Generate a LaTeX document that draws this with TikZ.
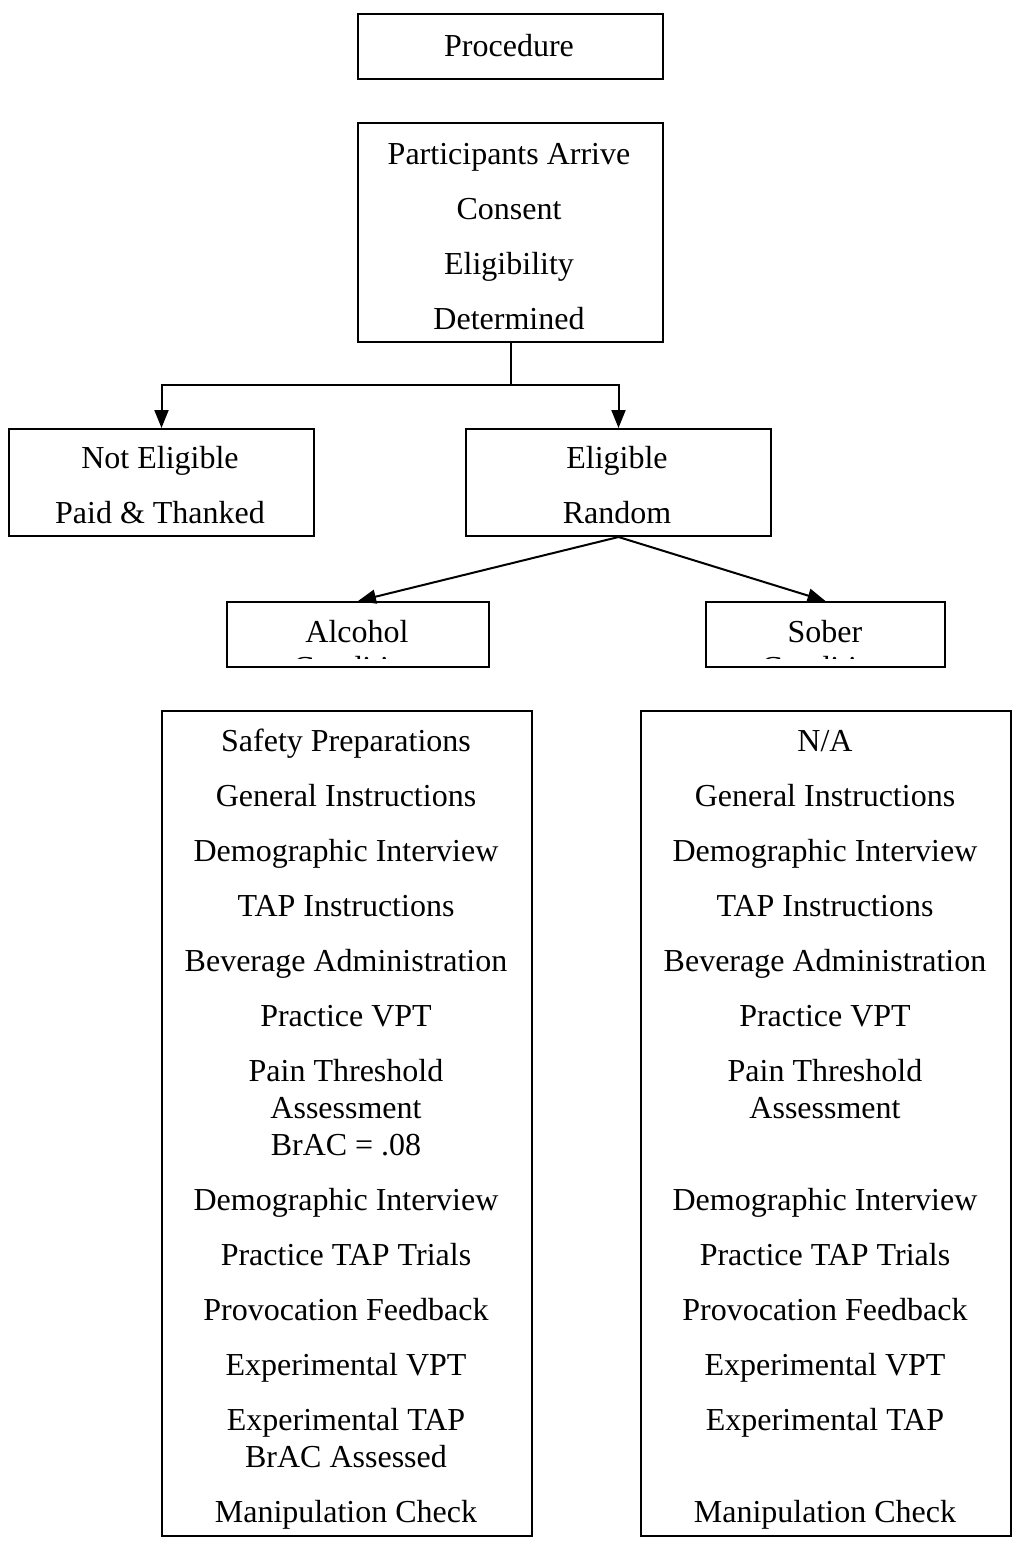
\documentclass[tikz,border=0pt]{standalone}
\usepackage{fontspec}
\setmainfont{Liberation Serif}
\usetikzlibrary{arrows.meta}
\begin{document}
\begin{tikzpicture}[x=1pt,y=-1pt,
  box/.style={draw, line width=2pt, inner sep=0pt, anchor=north west},
  txt/.style={inner sep=0pt, text height=0.66em, text depth=0pt, yshift=-7pt, font=\fontsize{32}{37}\selectfont},
  link/.style={line width=2pt},
  arr/.style={line width=2pt, -{Triangle[length=18pt,width=14pt]}}]
\useasboundingbox (0,0) rectangle (1013,1542);

% boxes
\node[box, minimum width=305pt, minimum height=65pt] (proc) at (357,13) {};
\node[box, minimum width=305pt, minimum height=219pt] (part) at (357,122) {};
\node[box, minimum width=305pt, minimum height=107pt] (nel) at (8,428) {};
\node[box, minimum width=305pt, minimum height=107pt] (elig) at (465,428) {};
\node[box, minimum width=262pt, minimum height=65pt] (alc) at (226,601) {};
\node[box, minimum width=239pt, minimum height=65pt] (sob) at (705,601) {};
\node[box, minimum width=370pt, minimum height=825pt] (lbox) at (161,710) {};
\node[box, minimum width=370pt, minimum height=825pt] (rbox) at (640,710) {};

% texts
\node[txt] (t0) at (509,46) {Procedure};
\node[txt] (p1) at (509,154) {Participants Arrive};
\node[txt] (p2) at (509,209) {Consent};
\node[txt] (p3) at (509,264) {Eligibility};
\node[txt] (p4) at (509,319) {Determined};
\node[txt] (n1) at (160,458) {Not Eligible};
\node[txt] (n2) at (160,513) {Paid \& Thanked};
\node[txt] (e1) at (617,458) {Eligible};
\node[txt] (e2) at (617,513) {Random};
\node[txt] (a1) at (357,632) {Alcohol};
\node[txt] (s1) at (825,632) {Sober};
\begin{scope}
  \clip (229,604) rectangle (485,658);
  \node[txt] (a2) at (357,668) {Condition};
\end{scope}
\begin{scope}
  \clip (708,604) rectangle (941,658);
  \node[txt] (s2) at (825,668) {Condition};
\end{scope}

% left column
\node[txt] (l1) at (346,741) {Safety Preparations};
\node[txt] (l2) at (346,796) {General Instructions};
\node[txt] (l3) at (346,851) {Demographic Interview};
\node[txt] (l4) at (346,906) {TAP Instructions};
\node[txt] (l5) at (346,961) {Beverage Administration};
\node[txt] (l6) at (346,1016) {Practice VPT};
\node[txt] (l7) at (346,1071) {Pain Threshold};
\node[txt] (l8) at (346,1108) {Assessment};
\node[txt] (l9) at (346,1145) {BrAC = .08};
\node[txt] (l10) at (346,1200) {Demographic Interview};
\node[txt] (l11) at (346,1255) {Practice TAP Trials};
\node[txt] (l12) at (346,1310) {Provocation Feedback};
\node[txt] (l13) at (346,1365) {Experimental VPT};
\node[txt] (l14) at (346,1420) {Experimental TAP};
\node[txt] (l15) at (346,1457) {BrAC Assessed};
\node[txt] (l16) at (346,1512) {Manipulation Check};

% right column
\node[txt] (r1) at (825,741) {N/A};
\node[txt] (r2) at (825,796) {General Instructions};
\node[txt] (r3) at (825,851) {Demographic Interview};
\node[txt] (r4) at (825,906) {TAP Instructions};
\node[txt] (r5) at (825,961) {Beverage Administration};
\node[txt] (r6) at (825,1016) {Practice VPT};
\node[txt] (r7) at (825,1071) {Pain Threshold};
\node[txt] (r8) at (825,1108) {Assessment};
\node[txt] (r10) at (825,1200) {Demographic Interview};
\node[txt] (r11) at (825,1255) {Practice TAP Trials};
\node[txt] (r12) at (825,1310) {Provocation Feedback};
\node[txt] (r13) at (825,1365) {Experimental VPT};
\node[txt] (r14) at (825,1420) {Experimental TAP};
\node[txt] (r16) at (825,1512) {Manipulation Check};

% connectors
\draw[link] (part.south) -- ++(0,42) coordinate (split);
\draw[arr] (split) -| (nel.north);
\draw[arr] (split) -| (elig.north);
\draw[arr] (elig.south) -- (alc.north);
\draw[arr] (elig.south) -- (sob.north);
\end{tikzpicture}
\end{document}
